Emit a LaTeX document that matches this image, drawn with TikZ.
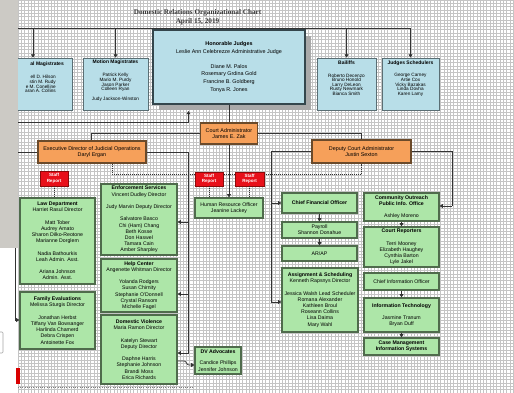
\documentclass[tikz,border=0pt]{standalone}
\usepackage{fontspec}
\setmainfont{Liberation Sans}
\newfontfamily\mytitlefont{Liberation Serif}
\usetikzlibrary{arrows.meta}
\definecolor{cblue}{HTML}{B8DEE8}
\definecolor{cbluedr}{HTML}{5A6E74}
\definecolor{cmaindr}{HTML}{34464C}
\definecolor{cgreen}{HTML}{ADE6A8}
\definecolor{cgreendr}{HTML}{4F6B4C}
\definecolor{corange}{HTML}{F6A05A}
\definecolor{corangedr}{HTML}{6B4A2A}
\definecolor{cred}{HTML}{E8101A}
\definecolor{creddr}{HTML}{8A0A0A}
\definecolor{cline}{HTML}{333333}
\definecolor{cgrid}{HTML}{C4C4C4}
\definecolor{cshadow}{HTML}{A9A9A9}
\definecolor{cstrip}{HTML}{CCCAC5}
\definecolor{ctitle}{HTML}{3A3A3A}
\newcommand\myfg{\fontsize{5.2}{6.2}\selectfont}
\newcommand\myfb{\fontsize{4.7}{4.6}\selectfont}
\newcommand\myfbh{\fontsize{5}{5}\selectfont\bfseries}
\newcommand\myfm{\fontsize{5.4}{7.6}\selectfont}
\newcommand\myfo{\fontsize{5.4}{6.5}\selectfont}
\newcommand\myfr{\fontsize{4.5}{5.6}\selectfont\bfseries}
\tikzset{
  base/.style={draw, align=center, inner sep=0pt, text=black},
  bluebox/.style={base, fill=cblue, draw=cbluedr, line width=0.8pt},
  mainbox/.style={base, fill=cblue, draw=cmaindr, line width=1.6pt, font=\myfm},
  orangebox/.style={base, fill=corange, draw=corangedr, line width=1.1pt, font=\myfo},
  greenbox/.style={base, fill=cgreen, draw=cgreendr, line width=1.2pt, font=\myfg},
  redbox/.style={base, fill=cred, draw=creddr, line width=0.8pt, text=white, font=\myfr},
  btext/.style={inner sep=0pt, align=center, font=\myfb},
  bhead/.style={inner sep=0pt, align=center, font=\myfbh},
  conn/.style={draw=cline, line width=0.7pt},
  arr/.style={conn, -{Triangle[width=3.8pt,length=3.2pt]}},
  dotc/.style={draw=cline, line width=0.7pt, dash pattern=on 1pt off 1pt},
  gridl/.style={draw=cgrid, line width=0.4pt},
}
\begin{document}
\begin{tikzpicture}[x=1pt,y=-1pt]
\useasboundingbox (0,0) rectangle (514,393);
\fill[white] (0,0) rectangle (514,393);
% grid paper
\foreach \i in {0,...,150} { \draw[gridl] ({18+\i*3.3},0) -- ({18+\i*3.3},393); }
\foreach \j in {0,...,119} { \draw[gridl] (18,{\j*3.3}) -- (514,{\j*3.3}); }
\draw[draw=gray, line width=0.6pt, dash pattern=on 1pt off 1.2pt] (18,387.5) -- (192,387.5);

% title
\node[font=\mytitlefont\bfseries\fontsize{7.2}{9}\selectfont, text=ctitle, align=center, inner sep=0pt] (title) at (197.5,17.5) {Domestic Relations Organizational Chart\\April 15, 2019};

% top bus
\coordinate (tb0) at (10,28.5);
\coordinate (tb1) at (410.5,28.5);
\coordinate (ta1) at (33,28.5);
\coordinate (ta2) at (115.5,28.5);
\coordinate (ta3) at (346.5,28.5);
\coordinate (ta4) at (410.5,28.5);
\draw[conn] (tb0) -- (tb1);

% top row blue boxes
\node[bluebox, minimum width=82pt, minimum height=52pt] (lm) at (31,84) {};
\node[bluebox, minimum width=65pt, minimum height=52pt] (mm) at (115.5,84) {};
\node[bluebox, minimum width=59pt, minimum height=52pt] (bail) at (346.5,84) {};
\node[bluebox, minimum width=57pt, minimum height=52pt] (js) at (410.5,84) {};
\draw[arr] (ta1) -- (ta1 |- lm.north);
\draw[arr] (ta2) -- (mm.north);
\draw[arr] (ta3) -- (bail.north);
\draw[arr] (ta4) -- (js.north);

\node[bhead, anchor=east] (lmh) at (64,64) {al Magistrates};
\node[btext, anchor=north east, align=right] (lmt) at (56,75.2) {ell D. Hilson\\stin M. Rudy\\e M. Conelline\\aran A. Collins};
\node[bhead] (mmh) at (115.5,62.5) {Motion Magistrates};
\node[btext, anchor=north] (mmt) at (115.5,73.3) {Patrick Kelly\\Mario M. Purdy\\Jason Parker\\Colleen Ryan\\[5pt]Judy Jackson-Winston};
\node[bhead] (bailh) at (346.5,63) {Bailiffs};
\node[btext, anchor=north] (bailt) at (346.5,73.5) {Roberto Decenzo\\Bruno Honold\\Larry DeLeon\\Rusty Newmark\\Bianca Smith};
\node[bhead] (jsh) at (410.5,63) {Judges Schedulers};
\node[btext, anchor=north] (jst) at (410.5,73.5) {George Carney\\Artie Cox\\Vicky Bazakas\\Linda Dovha\\Karen Lamy};

% main judges box
\fill[cshadow] (159,36) rectangle (311,110);
\node[mainbox, minimum width=152pt, minimum height=74pt] (main) at (229,67) {\textbf{Honorable Judges}\\Leslie Ann Celebrezze Administrative Judge\\[7.6pt]Diane M. Palos\\Rosemary Grdina Gold\\Francine B. Goldberg\\Tonya R. Jones};

% connector from left up to main
\coordinate (lu0) at (10,122);
\coordinate (lu1) at (188.5,122);
\coordinate (lu2) at (188.5,111);
\draw[arr] (lu0) -- (lu1) -- (lu2);

% administrators
\node[orangebox, minimum width=57pt, minimum height=21pt] (ca) at (229,133.5) {Court Administrator\\James E. Zak};
\node[orangebox, minimum width=108pt, minimum height=22pt] (exec) at (92,152) {Executive Director of Judicial Operations\\Daryl Ergan};
\node[orangebox, minimum width=99pt, minimum height=23pt] (dep) at (361.5,151.5) {Deputy Court Administrator\\Justin Sexton};
\draw[conn] (main.south) -- (ca.north);
\coordinate (ca1) at (91,133.5);
\coordinate (ca2) at (361.5,133.5);
\draw[conn] (ca.west) -- (ca1) -- (ca1 |- exec.north);
\draw[conn] (ca.east) -- (ca2) -- (dep.north);

% dotted line
\coordinate (d1) at (112,174);
\coordinate (d2) at (361.5,174);
\draw[dotc] (exec.south -| d1) -- (d1) -- (d2) -- (dep.south);

% red boxes
\node[redbox, minimum width=28pt, minimum height=15pt] (r1) at (54,178.5) {Staff\\Report};
\node[redbox, minimum width=28pt, minimum height=14pt] (r2) at (209,179) {Staff\\Report};
\node[redbox, minimum width=29pt, minimum height=14pt] (r3) at (249.5,179) {Staff\\Report};

% HR
\node[greenbox, minimum width=68pt, minimum height=20pt] (hr) at (229,208) {Human Resource Officer\\Jeanine Lackey};
\draw[arr] (ca.south) -- (hr.north);
\draw[dotc] (r2.south) -- (r2.south |- hr.north);
\draw[dotc] (r3.south) -- (r3.south |- hr.north);

% left column
\node[greenbox, minimum width=75pt, minimum height=86pt] (law) at (57.5,241) {\textbf{Law Department}\\Harriet Rasul Director\\[6.2pt]Matt Tober\\Audrey Amato\\Sharon Dilko-Reotone\\Marianne Dorglem\\[6.2pt]Nadia Bathourkis\\Leah Admin. Asst.\\[6.2pt]Ariana Johnson\\Admin. Asst.};
\node[greenbox, minimum width=75pt, minimum height=57pt] (fam) at (57.5,320.5) {\textbf{Family Evaluations}\\Melissa Sturgis Director\\[6.2pt]Jonathan Herbst\\Tiffany Van Bowsanger\\Harlinda Chamerd\\Debra Crispen\\Antoinette Fox};
\draw[dotc] (r1.south) -- (r1.south |- law.north);

% middle column
\node[greenbox, minimum width=76pt, minimum height=71pt] (enf) at (139,219.5) {\textbf{Enforcement Services}\\Vincent Dudley Director\\[6.2pt]Judy Marvin Deputy Director\\[6.2pt]Salvatore Basco\\Chi (Ham) Chang\\Beth Kosse\\Don Haswel\\Tamara Cain\\Amber Sharpley};
\node[greenbox, minimum width=76pt, minimum height=53pt] (help) at (139,285.5) {\textbf{Help Center}\\Angenette Whitman Director\\[6.2pt]Yolanda Rodgers\\Susan Chirnity\\Stephanie O'Donnell\\Crystal Ransom\\Michelle Fagel};
\node[greenbox, minimum width=76pt, minimum height=69pt] (domv) at (139,349.5) {\textbf{Domestic Violence}\\Maria Ramon Director\\[6.2pt]Katelyn Stewart\\Deputy Director\\[6.2pt]Daphne Harris\\Stephanie Johnson\\Brandi Moss\\Erica Richards};
\node[greenbox, minimum width=46pt, minimum height=27pt] (dva) at (218,360.5) {\textbf{DV Advocates}\\[5pt]Candice Phillips\\Jennifer Johnson};

% exec right bus
\coordinate (eb1) at (188.5,152);
\coordinate (eb2) at (188.5,353);
\coordinate (eb3) at (188.5,222);
\coordinate (eb4) at (188.5,294);
\draw[conn] (exec.east) -- (eb1) -- (eb2);
\draw[arr] (eb2) -- (domv.east |- eb2);
\draw[arr] (eb3) -- (enf.east |- eb3);
\draw[arr] (eb4) -- (help.east |- eb4);
\coordinate (dvj) at (184,361);
\coordinate (dvk) at (189,365);
\draw[arr] (domv.east |- dvj) -- (dvj) to[out=0,in=180] (dvk) -- (dva.west |- dvk);

% right-middle column
\node[greenbox, minimum width=75pt, minimum height=20pt] (cfo) at (319.5,203) {\textbf{Chief Financial Officer}};
\node[greenbox, minimum width=75pt, minimum height=16pt] (pay) at (319.5,230) {Payroll\\Shannon Donahue};
\node[greenbox, minimum width=75pt, minimum height=15pt] (arap) at (319.5,253.5) {AR/AP};
\node[greenbox, minimum width=76pt, minimum height=64pt] (asg) at (320,300) {\textbf{Assignment \& Scheduling}\\Kenneth Rapsnys Director\\[6.2pt]Jessica Walsh Lead Scheduler\\Romana Alexander\\Kathleen Broul\\Roseann Collins\\Lisa Daima\\Mary Wahl};
\draw[arr] (cfo.south) -- (pay.north);
\draw[arr] (pay.south) -- (arap.north);
\coordinate (dl1) at (271,151.5);
\coordinate (dl2) at (271,302);
\coordinate (dl3) at (271,203);
\draw[conn] (dep.west) -- (dl1) -- (dl2);
\draw[arr] (dl2) -- (asg.west |- dl2);
\draw[arr] (dl3) -- (cfo.west);

% right column
\node[greenbox, minimum width=75pt, minimum height=28pt] (comm) at (401.5,207) {\textbf{Community Outreach}\\\textbf{Public Info. Office}\\[6pt]Ashley Moreno};
\node[greenbox, minimum width=75pt, minimum height=40pt] (crep) at (401.5,247) {\textbf{Court Reporters}\\[6.2pt]Terri Mooney\\Elizabeth Haughey\\Cynthia Barton\\Lyle Jakel};
\node[greenbox, minimum width=75pt, minimum height=17pt] (cio) at (401.5,281.5) {Chief Information Officer};
\node[greenbox, minimum width=75pt, minimum height=34pt] (it) at (401.5,315) {\textbf{Information Technology}\\[5.6pt]Jasmine Tranum\\Bryan Duff};
\node[greenbox, minimum width=75pt, minimum height=17pt] (cmis) at (401.5,346.5) {\textbf{Case Management}\\\textbf{Information Systems}};
\draw[arr] (comm.south) -- (crep.north);
\draw[arr] (cio.south) -- (it.north);
\draw[arr] (it.south) -- (cmis.north);
\coordinate (dr1) at (452,151.5);
\coordinate (dr2) at (452,206);
\draw[conn] (dep.east) -- (dr1) -- (dr2);
\draw[arr] (dr2) -- (comm.east |- dr2);

% left connector to family evaluations
\coordinate (wl1) at (15,152);
\coordinate (wl2) at (15,320);
\draw[conn] (exec.west) -- (wl1) -- (wl2);

% left strip (background texture edge)
\fill[cstrip] (0,0) rectangle (18,248);
\fill[white] (0,248) rectangle (15,393);
\draw[arr] (wl1 |- 0,248) -- (wl2) -- (fam.west |- wl2);
\draw[draw=gray!70, line width=0.6pt, rounded corners=1pt] (-3,332) rectangle (3,353);
\fill[red!85!black] (16,368) rectangle (19.5,384);
\end{tikzpicture}
\end{document}
